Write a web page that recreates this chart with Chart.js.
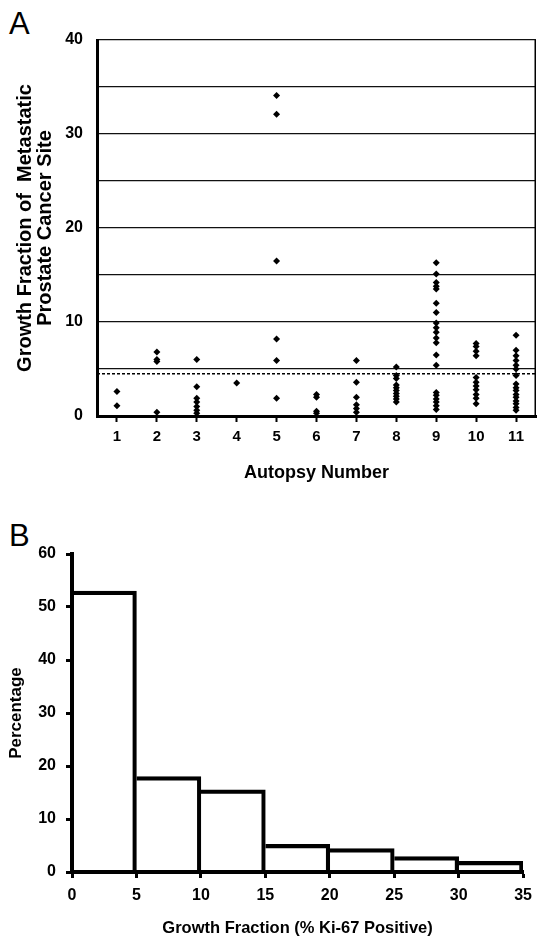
<!DOCTYPE html>
<html>
<head>
<meta charset="utf-8">
<script src="https://cdn.jsdelivr.net/npm/chart.js@4/dist/chart.umd.min.js"></script>
<style>
  body { margin: 0; background: #fff; width: 540px; height: 938px; position: relative; overflow: hidden; font-family: "Liberation Sans", Arial, sans-serif; }
  canvas { position: absolute; left: 0; }
  #chartA { top: 0; }
  #chartB { top: 500px; }
  .tag { position: absolute; left: 9px; font-size: 31px; line-height: 1; color: #000; }
</style>
</head>
<body>
<div class="tag" style="top:8px">A</div>
<div class="tag" style="top:520px">B</div>
<canvas id="chartA" width="540" height="500"></canvas>
<canvas id="chartB" width="540" height="438"></canvas>
<script>
"use strict";

// panel A: growth fraction per metastatic site, grouped by autopsy
const autopsyNumbers = [1, 2, 3, 4, 5, 6, 7, 8, 9, 10, 11];
const growthFractions = [
  [2.6, 1.1],
  [6.8, 6.0, 5.8, 0.4],
  [6.0, 3.1, 1.9, 1.5, 1.0, 0.6, 0.3],
  [3.5],
  [34.1, 32.1, 16.5, 8.2, 5.9, 1.9],
  [2.3, 2.0, 0.5, 0.3],
  [5.9, 3.6, 2.0, 1.2, 0.8, 0.4],
  [5.2, 4.3, 4.0, 3.3, 3.0, 2.7, 2.4, 2.1, 1.8, 1.5],
  [16.3, 15.1, 14.2, 13.8, 13.5, 12.0, 11.0, 9.9, 9.4, 8.9, 8.3, 7.8, 6.5, 5.4, 2.5, 2.2, 1.8, 1.5, 1.1, 0.7],
  [7.7, 7.4, 6.9, 6.4, 4.1, 3.6, 3.2, 2.8, 2.3, 1.9, 1.3],
  [8.6, 7.0, 6.4, 5.9, 5.4, 5.0, 4.3, 3.4, 3.0, 2.7, 2.3, 2.0, 1.6, 1.3, 0.9, 0.6]
];
const medianLine = 4.5;
const xRangeA = [0.5, 11.5];
const yTicksA = [0, 10, 20, 30, 40];

// panel B: histogram of growth fraction
const binEdges = [0, 5, 10, 15, 20, 25, 30, 35];
const percentages = [53, 18, 15.5, 5.2, 4.4, 2.9, 2.0];
const yTicksB = [0, 10, 20, 30, 40, 50, 60];

Chart.defaults.font.family = '"Liberation Sans", Arial, sans-serif';
Chart.defaults.color = "#000";

let points = [];
for (let i = 0; i < autopsyNumbers.length; i++) {
  for (let j = 0; j < growthFractions[i].length; j++) {
    points.push({ x: autopsyNumbers[i], y: growthFractions[i][j] });
  }
}

const rightEdge = {
  id: "rightEdge",
  afterDraw(chart) {
    const a = chart.chartArea;
    const ctx = chart.ctx;
    ctx.save();
    ctx.strokeStyle = "#000";
    ctx.lineWidth = 1.5;
    ctx.beginPath();
    ctx.moveTo(a.right - 0.75, a.top);
    ctx.lineTo(a.right - 0.75, a.bottom);
    ctx.stroke();
    ctx.restore();
  },
};

new Chart(document.getElementById("chartA"), {
  type: "scatter",
  data: {
    datasets: [
      {
        data: points,
        pointStyle: "rectRot",
        pointRadius: 3.5,
        backgroundColor: "#000",
        borderColor: "#000",
        borderWidth: 0,
      },
      {
        type: "line",
        data: [
          { x: xRangeA[0], y: medianLine },
          { x: xRangeA[1], y: medianLine },
        ],
        borderColor: "#000",
        borderWidth: 1.5,
        borderDash: [3, 2],
        pointRadius: 0,
      },
    ],
  },
  options: {
    responsive: false,
    animation: false,
    layout: { padding: { top: 40, right: 2, left: 0, bottom: 0 } },
    plugins: { legend: { display: false }, tooltip: { enabled: false } },
    scales: {
      x: {
        type: "linear",
        min: xRangeA[0],
        max: xRangeA[1],
        afterBuildTicks: (s) => {
          s.ticks = autopsyNumbers.map((v) => ({ value: v }));
        },
        grid: { drawOnChartArea: false, tickLength: 6, tickWidth: 2, tickColor: "#000" },
        border: { display: true, color: "#000", width: 3 },
        ticks: { padding: 6, maxRotation: 0, autoSkip: false, font: { size: 15, weight: "bold" } },
        title: {
          display: true,
          text: "Autopsy Number",
          font: { size: 18, weight: "bold" },
          padding: { top: 0, bottom: 16 },
        },
        afterFit: (s) => {
          s.height = 84;
        },
      },
      y: {
        min: 0,
        max: 40,
        ticks: {
          stepSize: 5,
          padding: 14,
          font: { size: 16, weight: "bold" },
          callback: (v) => (yTicksA.includes(v) ? v : ""),
        },
        grid: { color: "#111", lineWidth: 1.2, drawTicks: false },
        border: { display: true, color: "#000", width: 3 },
        title: {
          display: true,
          text: ["Growth Fraction of  Metastatic", "Prostate Cancer Site"],
          font: { size: 20, weight: "bold", lineHeight: 1.0 },
          padding: { top: 15, bottom: 0 },
        },
        afterFit: (s) => {
          s.width = 97;
        },
      },
    },
  },
  plugins: [rightEdge],
});

let bins = [];
for (let i = 0; i < percentages.length; i++) {
  bins.push({ x: (binEdges[i] + binEdges[i + 1]) / 2, y: percentages[i] });
}

new Chart(document.getElementById("chartB"), {
  type: "bar",
  data: {
    datasets: [
      {
        data: bins,
        backgroundColor: "transparent",
        borderColor: "#000",
        borderWidth: { top: 3.5, right: 3.5, left: 0, bottom: 0 },
        borderSkipped: false,
        barPercentage: 1,
        categoryPercentage: 1,
      },
    ],
  },
  options: {
    responsive: false,
    animation: false,
    layout: { padding: { top: 54, right: 14, left: 0, bottom: 0 } },
    plugins: { legend: { display: false }, tooltip: { enabled: false } },
    scales: {
      x: {
        type: "linear",
        offset: false,
        min: binEdges[0],
        max: binEdges[binEdges.length - 1],
        afterBuildTicks: (s) => {
          s.ticks = binEdges.map((v) => ({ value: v }));
        },
        grid: { drawOnChartArea: false, offset: false, tickLength: 6, tickWidth: 3, tickColor: "#000" },
        border: { display: true, color: "#000", width: 4 },
        ticks: { padding: 8, maxRotation: 0, autoSkip: false, font: { size: 16, weight: "bold" } },
        title: {
          display: true,
          text: "Growth Fraction (% Ki-67 Positive)",
          font: { size: 16.5, weight: "bold" },
          padding: { top: 0, bottom: 0 },
        },
        afterFit: (s) => {
          s.height = 66;
        },
      },
      y: {
        min: 0,
        max: 60,
        afterBuildTicks: (s) => {
          s.ticks = yTicksB.map((v) => ({ value: v }));
        },
        grid: { drawOnChartArea: false, tickLength: 6, tickWidth: 3, tickColor: "#000" },
        border: { display: true, color: "#000", width: 4 },
        ticks: { padding: 10, font: { size: 16, weight: "bold" } },
        title: {
          display: true,
          text: "Percentage",
          font: { size: 17, weight: "bold" },
          padding: { top: 6, bottom: 0 },
        },
        afterFit: (s) => {
          s.width = 72;
        },
      },
    },
  },
});
</script>
</body>
</html>
